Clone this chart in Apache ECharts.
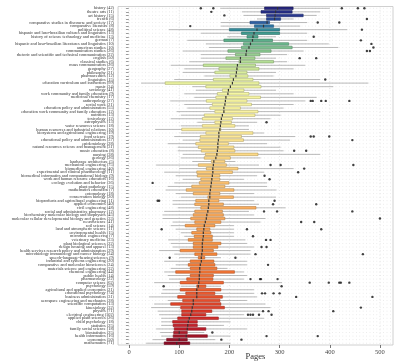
<!DOCTYPE html>
<html><head><meta charset="utf-8">
<script src="https://cdn.jsdelivr.net/npm/echarts@6/dist/echarts.min.js"></script>
<style>html,body{margin:0;padding:0;background:#fff}#c{width:400px;height:364px}</style>
</head><body><div id="c"></div>
<script>
const categories = [
"history (42)","theatre arts (11)","art history (15)","french (6)",
"comparative studies in discourse and society (17)","comparative literature (8)","political science (48)",
"hispanic and luso-brazilian cultures and linguistics (13)","history of science technology and medicine (13)","german (7)",
"hispanic and luso-brazilian literatures and linguistics (10)","american studies (10)","communication studies (26)",
"rhetoric and scientific and technical communication (22)","english (50)","classical studies (6)","mass communication (26)",
"geography (27)","philosophy (21)","pharmaceutics (12)","linguistics (15)","education curriculum and instruction (99)",
"music (34)","sociology (41)","work community and family education (9)","medicinal chemistry (17)","anthropology (27)",
"social work (21)","education policy and administration (55)","education work community and family education (12)",
"nutrition (13)","toxicology (12)","astrophysics (13)","water resources science (18)","human resources and industrial relations (10)",
"biosystems and agricultural engineering (19)","food science (19)","educational policy and administration (37)",
"epidemiology (28)","natural resources science and management (31)","music education (8)","nursing (38)","geology (26)",
"landscape architecture (5)","mechanical engineering (75)","biomedical engineering (40)","experimental and clinical pharmacology (11)",
"biomedical informatics and computational biology (9)","work and human resource education (16)","ecology evolution and behavior (36)",
"plant pathology (15)","mathematics education (7)","entomology (18)","conservation biology (20)","bioproducts and agricultural engineering (11)",
"applied economics (40)","civil engineering (48)","social and administrative pharmacy (12)","biochemistry molecular biology and biophysics (45)",
"molecular cellular developmental biology and genetics (33)","neuroscience (41)","soil science (14)","land and atmospheric science (11)",
"environmental health (15)","microbial engineering (7)","veterinary medicine (23)","plant biological sciences (22)","design housing and apparel (13)",
"health services research policy and administration (29)","microbiology immunology and cancer biology (34)","speech-language-hearing sciences (9)",
"industrial and systems engineering (20)","comparative and molecular biosciences (24)","materials science and engineering (32)",
"chemical engineering (44)","public health (14)","pharmacology (22)","computer science (62)","psychology (59)",
"agricultural and applied economics (21)","educational psychology (74)","business administration (31)","aerospace engineering and mechanics (28)",
"scientific computation (13)","kinesiology (32)","physics (71)","electrical engineering (102)","applied plant sciences (26)",
"child psychology (18)","statistics (25)","family social science (18)","biostatistics (25)","health informatics (16)","economics (50)","mathematics (71)"
];
const whiskerLow = [182,225,228,255,183,183,79,143,196,116,153,159,107,143,143,120,83,110,107,150,90,24,126,133,110,130,82,110,116,95,103,83,136,103,52,103,90,107,77,97,97,107,103,126,54,100,70,93,107,90,77,73,93,103,87,87,97,70,67,67,87,83,93,103,110,78,83,87,60,90,100,70,93,83,70,77,80,50,103,67,64,40,77,50,44,57,60,64,64,64,54,62,64,47,34];
const q1 = [270,263,274,274,241,250,200,224,235,189,228,224,197,212,193,219,148,179,171,201,168,72,153,186,176,173,154,166,161,171,150,146,171,146,105,153,142,141,133,138,144,152,150,164,138,154,135,136,143,140,125,114,128,157,133,131,143,131,128,123,131,112,135,125,130,118,128,128,102,131,138,122,118,122,93,122,115,102,135,102,113,97,107,83,103,105,105,97,87,88,90,89,88,75,70];
const median = [296,292,291,290,275,268,255,249,247,246,242,239,234,233,222,222,216,215,214,213,208,206,202,198,197,193,192,191,189,189,186,184,183,182,181,179,179,178,177,177,176,175,173,169,168,167,167,166,165,164,163,162,161,161,159,159,158,157,155,154,152,150,149,148,148,147,146,146,146,145,144,144,142,141,141,140,140,139,138,135,135,135,128,128,126,125,123,120,118,117,116,100,114,100,95];
const q3 = [327,325,347,302,280,288,300,300,257,286,318,325,283,261,251,288,252,259,235,237,247,259,263,229,239,262,235,244,222,257,251,206,204,211,183,247,224,228,198,209,211,257,202,191,194,217,206,181,181,199,191,209,181,208,179,188,253,186,188,191,183,171,161,163,166,166,183,177,168,175,151,169,171,175,210,168,167,188,153,183,171,186,181,183,190,165,153,178,136,136,153,116,156,116,121];
const whiskerHigh = [400,381,374,328,355,341,435,355,293,355,398,417,348,315,293,315,351,328,293,288,381,477,407,293,328,374,351,328,308,381,302,282,255,239,239,269,331,321,275,302,308,381,262,212,259,328,269,255,229,275,275,294,249,293,249,259,312,239,249,272,262,209,209,209,209,232,235,249,242,242,183,235,235,196,229,235,229,305,183,249,249,255,235,272,282,262,229,269,202,189,235,150,202,172,202];
const outliers = [
[143,168,424,456,469],[164],[190],[474],[376,419],[122],[464],[],[368],[462],
[483],[487],[474,480],[],[340,373],[],[],[],[],[],
[391],[],[],[],[],[],[362,366,383,392,439],[],[],[],
[],[],[274],[],[],[],[362,368,399],[445],[],[],
[329,353],[],[],[],[282,302,447],[349],[337],[270],[280],[47],
[],[],[],[],[57,60,290],[287,373],[],[269,295,445],[],[500],
[343,369],[],[65,235,383],[],[247],[273,282],[],[264,274],[],[252,466],
[81,212],[],[277],[],[],[],[242,261,263,296],[360,398,419,422,439],[69,304],[],
[265,271,288,300],[333,485],[],[],[462],[267,278,407],[237,242,247,259,284],[],[],[],
[],[166],[274,376],[184,224],[]
];
const xTicks = [0,100,200,300,400,500];

const colorStops = [[0,'#25257c'],[0.025,'#283a92'],[0.04,'#2c5aa2'],[0.055,'#2f7ba8'],[0.07,'#3a9690'],[0.09,'#55aa8a'],[0.11,'#72bb8e'],[0.14,'#98cf90'],[0.17,'#c2e498'],[0.2,'#e2f19d'],[0.25,'#f5f6a2'],[0.33,'#fbf2a0'],[0.41,'#fde28f'],[0.5,'#fdc874'],[0.6,'#fbae5f'],[0.7,'#f8923f'],[0.78,'#f47836'],[0.85,'#ec5a2e'],[0.9,'#de3b28'],[0.95,'#c4202b'],[1,'#8c0c26']];
function hex(h){return [1,3,5].map(k=>parseInt(h.substr(k,2),16));}
function colorAt(t){
  for(let k=1;k<colorStops.length;k++){
    if(t<=colorStops[k][0]){
      const a=colorStops[k-1],b=colorStops[k];
      const f=(t-a[0])/(b[0]-a[0]);
      const ca=hex(a[1]),cb=hex(b[1]);
      return ca.map((v,j)=>Math.round(v+(cb[j]-v)*f));
    }
  }
  return hex(colorStops[colorStops.length-1][1]);
}
function rgb(c,m){m=m||1;return 'rgb('+c.map(v=>Math.round(v*m)).join(',')+')';}

const boxData = categories.map((c,i)=>[i, whiskerLow[i], q1[i], median[i], q3[i], whiskerHigh[i]]);
const outlierData = [];
outliers.forEach((arr,i)=>arr.forEach(v=>outlierData.push([v,i])));

function renderBox(params, api){
  const i = api.value(0);
  const y = api.coord([0,i])[1];
  const band = api.size([0,1])[1];
  const h = band*0.72;
  const xl = api.coord([api.value(1),i])[0];
  const x1 = api.coord([api.value(2),i])[0];
  const xm = api.coord([api.value(3),i])[0];
  const x3 = api.coord([api.value(4),i])[0];
  const xh = api.coord([api.value(5),i])[0];
  const cs = params.coordSys;
  const col = colorAt(i/(categories.length-1));
  return {type:'group',children:[
    {type:'line',shape:{x1:cs.x,y1:y,x2:cs.x+cs.width,y2:y},style:{stroke:'#d6d6d6',lineWidth:0.6,lineDash:[0.8,2.6]},silent:true},
    {type:'line',shape:{x1:xl,y1:y,x2:xh,y2:y},style:{stroke:'#a8a8a8',lineWidth:0.8}},
    {type:'rect',shape:{x:x1,y:y-h/2,width:x3-x1,height:h},style:{fill:rgb(col),stroke:rgb(col,0.72),lineWidth:0.6}},
    {type:'line',shape:{x1:xm,y1:y-h/2,x2:xm,y2:y+h/2},style:{stroke:'#333',lineWidth:1.2}}
  ]};
}
function renderVGrid(params, api){
  const x = api.coord([api.value(0),0])[0];
  const cs = params.coordSys;
  return {type:'line',shape:{x1:x,y1:cs.y,x2:x,y2:cs.y+cs.height},style:{stroke:'#cfcfcf',lineWidth:0.7,lineDash:[0.8,2.6]},silent:true};
}

const chart = echarts.init(document.getElementById('c'),null,{renderer:'canvas'});
const font = 'Liberation Serif';
chart.setOption({
  animation:false,
  backgroundColor:'#fff',
  grid:{left:118,right:7,top:6.5,bottom:19,containLabel:false,outerBoundsMode:'none',show:true,borderColor:'#c4c4c4',borderWidth:0.8,backgroundColor:'#fff'},
  xAxis:{type:'value',min:-22,max:526,
    name:'Pages',nameLocation:'middle',nameGap:12,nameMoveOverlap:false,nameTextStyle:{fontFamily:font,fontSize:8.5,color:'#333',verticalAlign:'middle'},
    axisLine:{show:false},
    axisTick:{show:true,length:3,customValues:xTicks,lineStyle:{color:'#555',width:0.8}},
    axisLabel:{customValues:xTicks,fontFamily:font,fontSize:6.5,color:'#444',margin:4},
    splitLine:{show:false}},
  yAxis:{type:'category',inverse:true,data:categories,
    axisLine:{show:false},
    axisTick:{show:true,alignWithLabel:true,interval:0,length:3,lineStyle:{color:'#555',width:0.6}},
    axisLabel:{interval:0,fontFamily:font,fontSize:4.3,color:'#333',margin:4},
    splitLine:{show:false}},
  series:[
    {type:'custom',renderItem:renderVGrid,data:xTicks.map(v=>[v]),encode:{x:0},z:1,silent:true},
    {type:'custom',renderItem:renderBox,data:boxData,encode:{y:0,x:[1,2,3,4,5]},z:2},
    {type:'scatter',data:outlierData,symbolSize:2.4,itemStyle:{color:'#111'},z:3}
  ]
});
</script></body></html>
